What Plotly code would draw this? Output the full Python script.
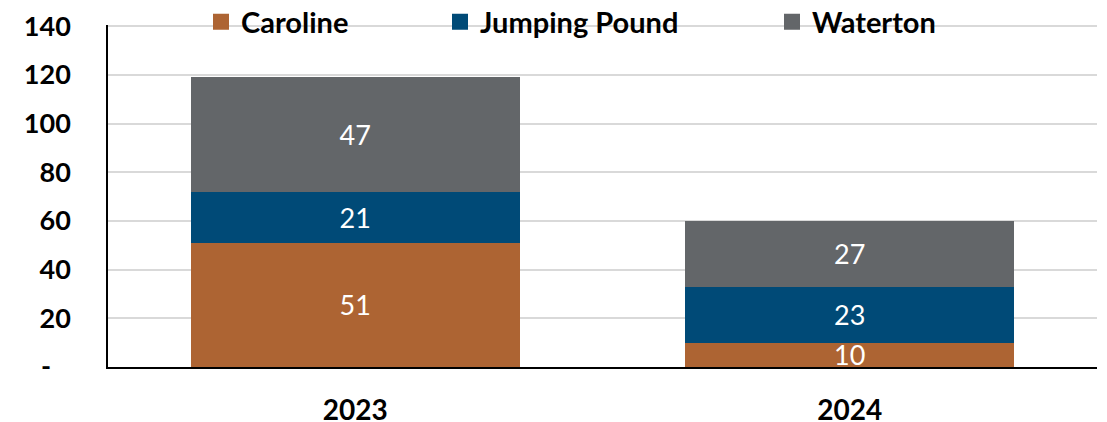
import plotly.graph_objects as go

years = ["2023", "2024"]
caroline = [51, 10]
jumping_pound = [21, 23]
waterton = [47, 27]
series_names = ["Caroline", "Jumping Pound", "Waterton"]
colors = ["#AD6433", "#004A77", "#636669"]
ytick_vals = [0, 20, 40, 60, 80, 100, 120, 140]
ytick_text = ["-\u00a0\u00a0\u00a0", "20", "40", "60", "80", "100", "120", "140"]

FONT = "Lato"
W, H = 1099, 414  # page body has an 8px margin
fig = go.Figure()
legend_ids = ["legend", "legend2", "legend3"]
for name, vals, col, lg in zip(series_names, [caroline, jumping_pound, waterton], colors, legend_ids):
    fig.add_trace(go.Bar(
        x=years, y=vals, name=name, marker=dict(color=col, line=dict(width=0)),
        text=[str(v) for v in vals], textposition="inside", insidetextanchor="middle",
        constraintext="none", textangle=0,
        textfont=dict(family=FONT, size=27, color="white"),
        legendgroup=name, showlegend=False,
    ))
# legend entries with larger square swatches
for name, col, lg in zip(series_names, colors, legend_ids):
    fig.add_trace(go.Scatter(
        x=[None], y=[None], mode="markers", name=name, legendgroup=name,
        marker=dict(symbol="square", size=16, color=col, line=dict(width=0)),
        legend=lg, showlegend=True, hoverinfo="skip",
    ))

legend_px = [193, 432, 764]
common_leg = dict(orientation="h", yanchor="middle", y=(H - 14) / H, yref="container",
                  xanchor="left", xref="container",
                  font=dict(family=FONT, size=29, color="black", weight="bold"),
                  bgcolor="rgba(255,255,255,0)", itemwidth=30)
fig.update_layout(
    barmode="stack", bargap=0.335, showlegend=True,
    width=W, height=H,
    margin=dict(l=100, r=10, t=17, b=55, autoexpand=False),
    paper_bgcolor="white", plot_bgcolor="white",
    legend=dict(**common_leg, x=legend_px[0] / W),
    legend2=dict(**common_leg, x=legend_px[1] / W),
    legend3=dict(**common_leg, x=legend_px[2] / W),
    xaxis=dict(showline=True, linecolor="black", linewidth=2, ticks="", automargin=False,
               tickfont=dict(family=FONT, size=28, color="black", weight="bold"),
               ticklabelstandoff=17, ticklabeloverflow="allow"),
    yaxis=dict(range=[0, 140.5], tickvals=ytick_vals, ticktext=ytick_text, automargin=False,
               showline=True, linecolor="black", linewidth=1.5,
               gridcolor="#D9D9D9", gridwidth=1.5, zeroline=False, ticks="",
               tickfont=dict(family=FONT, size=27, color="black", weight="bold"),
               ticklabelstandoff=30, ticklabeloverflow="allow"),
    font=dict(family=FONT),
)

fig.write_html("out.html")
